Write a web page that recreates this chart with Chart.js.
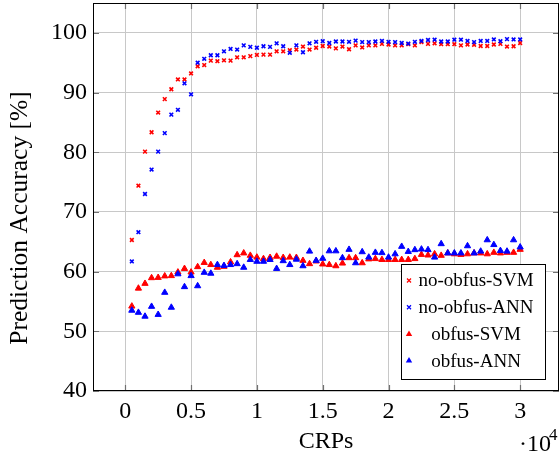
<!DOCTYPE html>
<html>
<head>
<meta charset="utf-8">
<script src="https://cdn.jsdelivr.net/npm/chart.js@4"></script>
<style>
  html, body { margin: 0; padding: 0; background: #fff; }
  canvas { display: block; }
</style>
</head>
<body>
<canvas id="chart" width="559" height="460"></canvas>
<script>
// CRPs used for training (x axis)
const crps = [500, 1000, 1500, 2000, 2500, 3000, 3500, 4000, 4500, 5000,
  5500, 6000, 6500, 7000, 7500, 8000, 8500, 9000, 9500, 10000,
  10500, 11000, 11500, 12000, 12500, 13000, 13500, 14000, 14500, 15000,
  15500, 16000, 16500, 17000, 17500, 18000, 18500, 19000, 19500, 20000,
  20500, 21000, 21500, 22000, 22500, 23000, 23500, 24000, 24500, 25000,
  25500, 26000, 26500, 27000, 27500, 28000, 28500, 29000, 29500, 30000];

// prediction accuracy in %
const noObfusSVM = [65.3, 74.4, 80.1, 83.35, 86.65, 88.9, 90.55, 92.2, 92.2, 93.2,
  94.4, 94.6, 95.35, 95.25, 95.4, 95.35, 95.9, 95.9, 96.1, 96.3,
  96.35, 96.35, 96.9, 96.9, 97.1, 97.2, 97.7, 97.2, 97.5, 97.8,
  97.7, 97.4, 97.7, 97.25, 97.9, 97.55, 97.9, 97.9, 98.15, 98.05,
  97.9, 97.9, 98.1, 97.9, 98.45, 98.15, 98.25, 98.1, 98.1, 98.1,
  97.9, 98.05, 98.0, 97.8, 97.8, 98.05, 98.15, 97.7, 97.75, 98.3];
const noObfusANN = [61.7, 66.6, 73.0, 77.1, 80.1, 83.2, 86.3, 87.1, 91.55, 89.7,
  95.0, 95.65, 96.25, 96.25, 96.9, 97.3, 97.2, 97.9, 97.65, 97.5,
  97.75, 97.65, 98.25, 97.75, 96.65, 97.9, 96.75, 98.25, 98.5, 98.6,
  98.3, 98.55, 98.55, 98.5, 98.7, 98.45, 98.45, 98.55, 98.65, 98.5,
  98.45, 98.3, 98.2, 98.5, 98.65, 98.8, 98.85, 98.55, 98.55, 98.85,
  98.85, 98.65, 98.45, 98.65, 98.65, 98.9, 98.6, 98.95, 98.9, 98.9];
const obfusSVM = [54.2, 57.2, 58.0, 58.95, 59.0, 59.25, 59.3, 59.9, 60.5, 59.9,
  60.8, 61.5, 61.15, 60.7, 60.85, 61.6, 62.8, 63.1, 62.7, 62.4,
  62.15, 62.35, 62.55, 62.35, 62.4, 62.35, 61.85, 61.3, 61.75, 61.25,
  61.15, 60.95, 61.4, 62.3, 62.3, 61.45, 62.1, 62.15, 62.0, 62.0,
  62.0, 62.0, 62.0, 62.15, 62.85, 62.75, 62.95, 62.7, 63.1, 62.95,
  62.85, 62.95, 63.1, 63.1, 62.95, 63.2, 63.1, 63.2, 63.2, 63.7];
const obfusANN = [53.5, 53.15, 52.5, 54.15, 52.8, 56.5, 54.0, 59.6, 57.45, 59.3,
  57.6, 59.85, 59.7, 61.15, 61.0, 61.15, 61.3, 60.7, 62.0, 61.7,
  61.7, 62.0, 60.5, 61.8, 61.15, 62.05, 60.95, 63.4, 61.85, 62.2,
  63.45, 63.45, 62.3, 63.7, 61.45, 63.3, 62.4, 63.2, 63.15, 62.4,
  62.95, 64.2, 63.35, 63.65, 63.75, 63.65, 62.4, 64.65, 63.1, 63.1,
  63.1, 64.3, 63.1, 63.4, 65.3, 64.5, 63.5, 63.4, 65.3, 64.1];

const seriesNames = ['no-obfus-SVM', 'no-obfus-ANN', 'obfus-SVM', 'obfus-ANN'];
const xTickValues = [0, 5000, 10000, 15000, 20000, 25000, 30000];
const yTickValues = [40, 50, 60, 70, 80, 90, 100];
const yAxisTitle = 'Prediction Accuracy [%]';

const RED = '#ff0000';
const BLUE = '#0000ff';
const FONT = "'Liberation Serif', 'Times New Roman', serif";

// the axis frame runs up to the canvas edge, so don't reserve room for marker overflow
Chart.ScatterController.prototype.getMaxOverflow = () => 0;

const toPoints = arr => crps.map((x, i) => ({ x: x, y: arr[i] }));

const markerStyles = [
  { color: RED, shape: 'crossRot' },
  { color: BLUE, shape: 'crossRot' },
  { color: RED, shape: 'triangle' },
  { color: BLUE, shape: 'triangle' }
];
const seriesValues = [noObfusSVM, noObfusANN, obfusSVM, obfusANN];

const datasets = seriesValues.map((vals, i) => {
  const st = markerStyles[i];
  const isCross = st.shape === 'crossRot';
  return {
    label: seriesNames[i],
    data: toPoints(vals),
    pointStyle: st.shape,
    pointRadius: isCross ? 2.6 : 3.6,
    pointHoverRadius: isCross ? 2.6 : 3.6,
    borderWidth: isCross ? 1.6 : 1,
    borderColor: st.color,
    backgroundColor: st.color,
    order: 4 - i,
    showLine: false
  };
});

// frame, inward ticks, legend box, y title and the x10^4 exponent
const decorations = {
  id: 'decorations',
  afterDatasetsDraw(chart) {
    const { ctx, chartArea: a, scales } = chart;
    ctx.save();
    // ticks pointing inside on all four sides
    ctx.strokeStyle = '#707070';
    ctx.lineWidth = 1.2;
    const tl = 6;
    xTickValues.forEach(v => {
      const px = Math.round(scales.x.getPixelForValue(v)) + 0.5;
      ctx.beginPath();
      ctx.moveTo(px, a.bottom); ctx.lineTo(px, a.bottom - tl);
      ctx.moveTo(px, a.top); ctx.lineTo(px, a.top + tl);
      ctx.stroke();
    });
    yTickValues.forEach(v => {
      const py = Math.round(scales.y.getPixelForValue(v)) + 0.5;
      ctx.beginPath();
      ctx.moveTo(a.left, py); ctx.lineTo(a.left + tl, py);
      ctx.moveTo(a.right, py); ctx.lineTo(a.right - tl, py);
      ctx.stroke();
    });
    // axis frame
    ctx.strokeStyle = '#000';
    ctx.lineWidth = 1;
    ctx.strokeRect(a.left + 0.5, a.top + 0.5, a.right - a.left - 1, a.bottom - a.top - 1);
    ctx.restore();
  },
  afterDraw(chart) {
    const { ctx } = chart;
    ctx.save();
    // legend
    const bx = 401.5, by = 264.5, bw = 144, bh = 115;
    ctx.fillStyle = '#fff';
    ctx.fillRect(bx, by, bw, bh);
    ctx.strokeStyle = '#000';
    ctx.lineWidth = 1;
    ctx.strokeRect(bx, by, bw, bh);
    ctx.font = '19px ' + FONT;
    ctx.textAlign = 'center';
    ctx.textBaseline = 'middle';
    seriesNames.forEach((name, i) => {
      const cy = by + 16 + i * 26.7;
      const mx = 409;
      const st = markerStyles[i];
      ctx.fillStyle = st.color;
      ctx.strokeStyle = st.color;
      if (st.shape === 'crossRot') {
        ctx.lineWidth = 1.3;
        ctx.beginPath();
        ctx.moveTo(mx - 2, cy - 2); ctx.lineTo(mx + 2, cy + 2);
        ctx.moveTo(mx + 2, cy - 2); ctx.lineTo(mx - 2, cy + 2);
        ctx.stroke();
      } else {
        ctx.beginPath();
        ctx.moveTo(mx, cy - 3.5);
        ctx.lineTo(mx + 3.2, cy + 2);
        ctx.lineTo(mx - 3.2, cy + 2);
        ctx.closePath();
        ctx.fill();
      }
      ctx.fillStyle = '#000';
      ctx.fillText(name, 476, cy + 1);
    });
    // y axis title
    ctx.save();
    ctx.translate(20, 218);
    ctx.rotate(-Math.PI / 2);
    ctx.font = '25.5px ' + FONT;
    ctx.fillStyle = '#000';
    ctx.textAlign = 'center';
    ctx.textBaseline = 'middle';
    ctx.fillText(yAxisTitle, 0, 0);
    ctx.restore();
    // x axis multiplier
    ctx.fillStyle = '#000';
    ctx.textAlign = 'left';
    ctx.textBaseline = 'alphabetic';
    ctx.font = '24px ' + FONT;
    ctx.fillText('\u00b710', 519, 451);
    ctx.font = '17px ' + FONT;
    ctx.fillText('4', 549, 440);
    ctx.restore();
  }
};

new Chart(document.getElementById('chart'), {
  type: 'scatter',
  data: { datasets: datasets },
  options: {
    responsive: false,
    animation: false,
    devicePixelRatio: 1,
    layout: { padding: { top: 3, right: 0, left: 0, bottom: 0 } },
    plugins: { legend: { display: false }, tooltip: { enabled: false } },
    scales: {
      x: {
        type: 'linear',
        min: -2450,
        max: 32950,
        afterBuildTicks: s => { s.ticks = xTickValues.map(v => ({ value: v })); },
        afterFit: s => {
          s.height = 69;
          s.paddingLeft = 0;
          s.paddingRight = 0;
        },
        ticks: {
          callback: v => String(v / 10000),
          font: { family: FONT, size: 24 },
          color: '#000',
          padding: 6,
          maxRotation: 0
        },
        grid: { color: '#c8c8c8', lineWidth: 1, drawTicks: false },
        border: { display: false },
        title: {
          display: true,
          text: 'CRPs',
          font: { family: FONT, size: 24 },
          color: '#000',
          padding: { top: 0, bottom: 4 }
        }
      },
      y: {
        min: 40,
        max: 105,
        afterBuildTicks: s => { s.ticks = yTickValues.map(v => ({ value: v })); },
        afterFit: s => {
          s.width = 93;
          s.paddingTop = 0;
          s.paddingBottom = 0;
        },
        ticks: {
          font: { family: FONT, size: 24 },
          color: '#000',
          padding: 6
        },
        grid: { color: '#c8c8c8', lineWidth: 1, drawTicks: false },
        border: { display: false },
        title: { display: false }
      }
    }
  },
  plugins: [decorations]
});
</script>
</body>
</html>
